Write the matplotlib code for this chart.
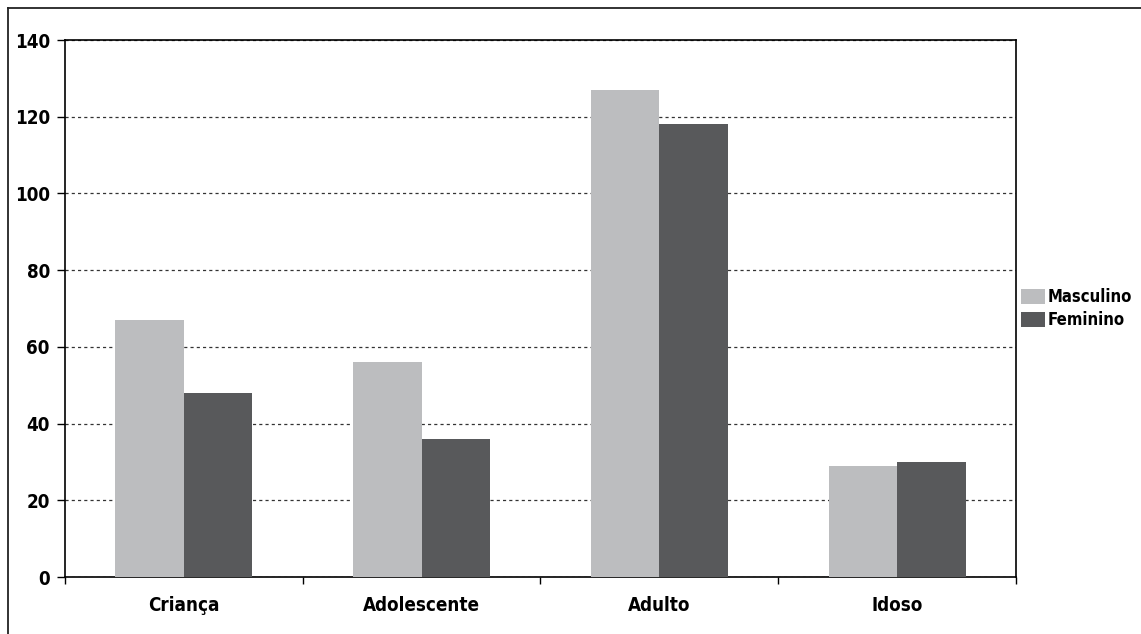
import numpy as np
import matplotlib.pyplot as plt
from matplotlib.lines import Line2D
from matplotlib import font_manager

categories = ['Criança', 'Adolescente', 'Adulto', 'Idoso']
masculino = [67, 56, 127, 29]
feminino = [48, 36, 118, 30]
series_names = ['Masculino', 'Feminino']
y_ticks = [0, 20, 40, 60, 80, 100, 120, 140]

# look for a condensed / narrow bold face, the original uses one
pick = None
for f in font_manager.fontManager.ttflist:
    path = f.fname.lower()
    narrow = ('condensed' in path or 'narrow' in path or f.stretch not in ('normal', 400, 500))
    bold = f.weight in ('bold', 700, 600, 'semibold', 'demibold') or 'bold' in path
    if narrow and bold and 'italic' not in path and 'oblique' not in path:
        if pick is None or 'semi' in pick.fname.lower():
            pick = f
if pick is not None:
    plt.rcParams['font.family'] = [pick.name, 'DejaVu Sans']
    plt.rcParams['font.stretch'] = pick.stretch
    fs, lfs = 13.5, 12
else:
    plt.rcParams['font.family'] = ['DejaVu Sans']
    fs, lfs = 13, 11
plt.rcParams['font.weight'] = 'bold'

fig = plt.figure(figsize=(11.41, 6.34), dpi=100)
ax = fig.add_axes([0.057, 0.0899, 0.8334, 0.847])

x = np.arange(len(categories))
w = 0.288
ax.bar(x - w / 2, masculino, w, color='#bcbdbf', label=series_names[0], zorder=3)
ax.bar(x + w / 2, feminino, w, color='#58595b', label=series_names[1], zorder=3)

ax.set_xlim(-0.5, len(categories) - 0.5)
ax.set_ylim(0, 140)
ax.set_yticks(y_ticks)
ax.set_yticklabels([str(v) for v in y_ticks], fontsize=fs, fontweight='bold')
ax.yaxis.grid(True, linestyle=(0, (2.5, 2.5)), color='#333333', linewidth=0.9, zorder=0)

# ticks between categories, labels at centres
ax.set_xticks(np.arange(-0.5, len(categories), 1.0))
ax.set_xticklabels([])
ax.set_xticks(x, minor=True)
ax.set_xticklabels(categories, minor=True, fontsize=fs, fontweight='bold')
ax.tick_params(axis='x', which='minor', length=0, pad=14)
ax.tick_params(axis='x', which='major', length=5, width=1, direction='out')
ax.tick_params(axis='y', length=6, width=1, direction='out', pad=5)

for s in ax.spines.values():
    s.set_linewidth(1.2)
    s.set_color('black')

leg = ax.legend(loc='center left', bbox_to_anchor=(1.0, 0.50), frameon=False,
                prop={'size': lfs, 'weight': 'bold'}, handlelength=1.45,
                handleheight=1.0, handletextpad=0.15, labelspacing=0.3,
                borderpad=0.2, borderaxespad=0.1)

# outer frame: only top and left edges are visible
fig.add_artist(Line2D([8 / 1141, 1], [1 - 8 / 634, 1 - 8 / 634], transform=fig.transFigure,
                      color='#222222', linewidth=1.3))
fig.add_artist(Line2D([8 / 1141, 8 / 1141], [0, 1 - 8 / 634], transform=fig.transFigure,
                      color='#222222', linewidth=1.3))

fig.savefig('out.png', dpi=100)
